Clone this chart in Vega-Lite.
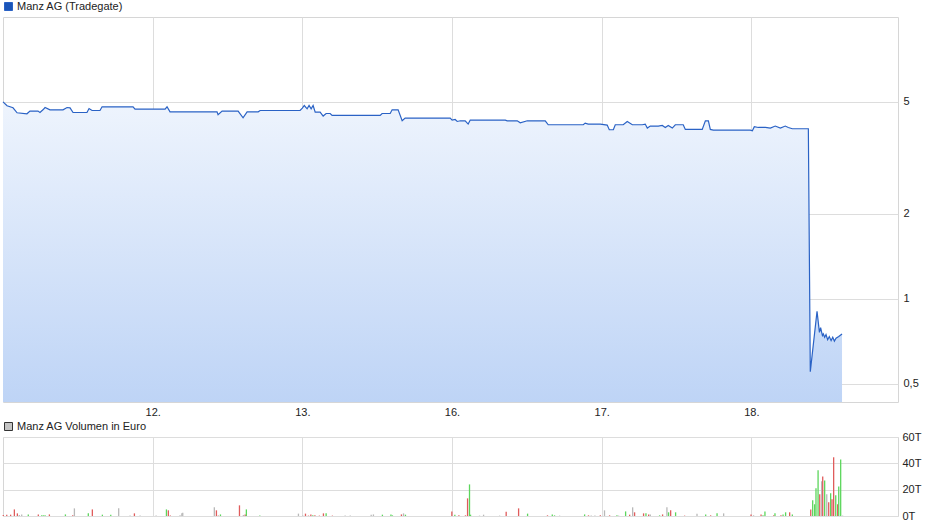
{
  "$schema": "https://vega.github.io/schema/vega-lite/v6.json",
  "padding": {"left": 0, "top": 0, "right": 0, "bottom": 0},
  "config": {
    "font": "Liberation Sans",
    "view": {"stroke": "#d6d6d6", "strokeWidth": 1},
    "axis": {"labelFont": "Liberation Sans", "labelFontSize": 11, "labelColor": "#222222", "gridColor": "#dddddd", "gridWidth": 1, "ticks": false, "domain": false, "title": null},
    "legend": {"orient": "top", "offset": 4, "padding": 0, "labelFont": "Liberation Sans", "labelFontSize": 11, "labelColor": "#222222", "symbolType": "square", "symbolSize": 64, "labelOffset": 3, "title": null},
    "concat": {"spacing": 2}
  },
  "spacing": 2,
  "resolve": {
    "scale": {"color": "independent", "opacity": "independent", "x": "independent", "y": "independent"},
    "legend": {"color": "independent", "opacity": "independent"}
  },
  "vconcat": [
    {
      "width": 895,
      "height": 385,
      "data": {"values": [
        {"t":0.000,"p":5.000},{"t":0.027,"p":4.840},{"t":0.067,"p":4.761},{"t":0.094,"p":4.571},{"t":0.160,"p":4.534},{"t":0.180,"p":4.634},{"t":0.234,"p":4.634},{"t":0.247,"p":4.582},{"t":0.267,"p":4.684},{"t":0.281,"p":4.773},{"t":0.314,"p":4.684},{"t":0.401,"p":4.684},{"t":0.428,"p":4.773},{"t":0.448,"p":4.761},{"t":0.468,"p":4.582},{"t":0.561,"p":4.582},{"t":0.575,"p":4.734},{"t":0.595,"p":4.657},{"t":0.648,"p":4.657},{"t":0.662,"p":4.800},{"t":0.869,"p":4.800},{"t":0.882,"p":4.711},{"t":1.083,"p":4.711},{"t":1.096,"p":4.800},{"t":1.116,"p":4.608},{"t":1.430,"p":4.608},{"t":1.437,"p":4.497},{"t":1.464,"p":4.634},{"t":1.571,"p":4.634},{"t":1.604,"p":4.389},{"t":1.631,"p":4.608},{"t":1.705,"p":4.608},{"t":1.718,"p":4.657},{"t":1.985,"p":4.657},
        {"t":2.000,"p":4.749},{"t":2.013,"p":4.851},{"t":2.032,"p":4.722},{"t":2.045,"p":4.851},{"t":2.059,"p":4.722},{"t":2.072,"p":4.851},{"t":2.086,"p":4.597},{"t":2.119,"p":4.597},{"t":2.139,"p":4.450},{"t":2.159,"p":4.545},{"t":2.186,"p":4.545},{"t":2.199,"p":4.472},{"t":2.520,"p":4.472},{"t":2.533,"p":4.545},{"t":2.587,"p":4.545},{"t":2.600,"p":4.684},{"t":2.640,"p":4.684},{"t":2.667,"p":4.282},{"t":2.687,"p":4.378},{"t":2.988,"p":4.378},
        {"t":3.001,"p":4.307},{"t":3.021,"p":4.328},{"t":3.035,"p":4.258},{"t":3.055,"p":4.282},{"t":3.088,"p":4.282},{"t":3.108,"p":4.168},{"t":3.122,"p":4.307},{"t":3.356,"p":4.307},{"t":3.369,"p":4.282},{"t":3.436,"p":4.282},{"t":3.456,"p":4.213},{"t":3.503,"p":4.282},{"t":3.623,"p":4.282},{"t":3.643,"p":4.145},{"t":3.877,"p":4.145},{"t":3.890,"p":4.202},{"t":3.910,"p":4.168},{"t":3.991,"p":4.168},
        {"t":4.037,"p":4.134},{"t":4.051,"p":3.979},{"t":4.078,"p":3.979},{"t":4.091,"p":4.145},{"t":4.144,"p":4.145},{"t":4.171,"p":4.258},{"t":4.205,"p":4.145},{"t":4.271,"p":4.145},{"t":4.291,"p":4.168},{"t":4.305,"p":4.035},{"t":4.325,"p":4.101},{"t":4.378,"p":4.101},{"t":4.405,"p":4.121},{"t":4.425,"p":4.054},{"t":4.445,"p":4.121},{"t":4.472,"p":4.035},{"t":4.492,"p":4.145},{"t":4.545,"p":4.145},{"t":4.559,"p":3.989},{"t":4.672,"p":3.989},{"t":4.693,"p":4.282},{"t":4.713,"p":4.282},{"t":4.726,"p":3.989},{"t":4.746,"p":3.969},{"t":4.993,"p":3.969},
        {"t":5.007,"p":3.946},{"t":5.020,"p":4.078},{"t":5.047,"p":4.054},{"t":5.094,"p":4.054},{"t":5.127,"p":4.035},{"t":5.160,"p":4.101},{"t":5.194,"p":4.035},{"t":5.227,"p":4.101},{"t":5.247,"p":4.054},{"t":5.274,"p":4.012},{"t":5.381,"p":4.012},{"t":5.394,"p":0.551},{"t":5.439,"p":0.903},{"t":5.455,"p":0.760},{"t":5.463,"p":0.790},{"t":5.475,"p":0.740},{"t":5.481,"p":0.750},{"t":5.490,"p":0.730},{"t":5.499,"p":0.746},{"t":5.510,"p":0.715},{"t":5.521,"p":0.734},{"t":5.533,"p":0.710},{"t":5.544,"p":0.730},{"t":5.555,"p":0.707},{"t":5.566,"p":0.724},{"t":5.584,"p":0.734},{"t":5.606,"p":0.750}
      ]},
      "encoding": {
        "x": {"field": "t", "type": "quantitative", "scale": {"domain": [0, 5.98], "nice": false, "zero": false},
              "axis": {"values": [1, 2, 3, 4, 5], "labelExpr": "['11.','12.','13.','16.','17.','18.'][datum.value]", "labelPadding": 4, "grid": true}}
      },
      "layer": [
        {
          "mark": {"type": "area", "color": {"gradient": "linear", "x1": 0, "y1": 0, "x2": 0, "y2": 1,
                    "stops": [{"offset": 0, "color": "#eef4fd"}, {"offset": 1, "color": "#bed4f6"}]}},
          "encoding": {
            "y": {"field": "p", "type": "quantitative", "scale": {"type": "log", "domain": [0.43, 10], "nice": false},
                  "axis": {"orient": "right", "values": [0.5, 1, 2, 5], "labelExpr": "replace(toString(datum.value), '.', ',')", "labelPadding": 5, "grid": true}},
            "y2": {"datum": 0.43}
          }
        },
        {
          "mark": {"type": "line", "strokeWidth": 1.2},
          "encoding": {
            "y": {"field": "p", "type": "quantitative"},
            "color": {"datum": "Manz AG (Tradegate)", "scale": {"range": ["#2a62c5"]},
                      "legend": {"symbolType": "square", "encode": {"symbols": {"update": {"fill": {"value": "#1b55b8"}, "stroke": {"value": "#0a2a66"}, "strokeWidth": {"value": 1}, "opacity": {"value": 1}}}}}}
          }
        }
      ]
    },
    {
      "width": 895,
      "height": 79,
      "data": {"values": [
        {"t":0.002,"v":800,"d":"down"},{"t":0.025,"v":1000,"d":"down"},{"t":0.051,"v":1000,"d":"down"},{"t":0.076,"v":5000,"d":"down"},{"t":0.096,"v":2000,"d":"down"},{"t":0.109,"v":700,"d":"flat"},{"t":0.125,"v":1200,"d":"flat"},{"t":0.169,"v":1200,"d":"up"},{"t":0.236,"v":1200,"d":"down"},{"t":0.259,"v":500,"d":"up"},{"t":0.270,"v":500,"d":"up"},{"t":0.281,"v":500,"d":"up"},{"t":0.310,"v":1200,"d":"down"},{"t":0.417,"v":1200,"d":"up"},{"t":0.466,"v":500,"d":"down"},{"t":0.477,"v":5800,"d":"flat"},{"t":0.570,"v":2000,"d":"up"},{"t":0.597,"v":5000,"d":"down"},{"t":0.664,"v":1000,"d":"up"},{"t":0.720,"v":1000,"d":"up"},{"t":0.773,"v":5800,"d":"flat"},{"t":0.849,"v":300,"d":"flat"},{"t":0.878,"v":2000,"d":"down"},{"t":0.916,"v":300,"d":"flat"},
        {"t":1.023,"v":300,"d":"flat"},{"t":1.092,"v":5000,"d":"up"},{"t":1.105,"v":4300,"d":"down"},{"t":1.118,"v":300,"d":"down"},{"t":1.183,"v":500,"d":"flat"},{"t":1.195,"v":2000,"d":"flat"},{"t":1.201,"v":2500,"d":"flat"},{"t":1.412,"v":6600,"d":"flat"},{"t":1.426,"v":4300,"d":"down"},{"t":1.439,"v":300,"d":"down"},{"t":1.453,"v":1200,"d":"up"},{"t":1.580,"v":8100,"d":"down"},{"t":1.606,"v":800,"d":"flat"},{"t":1.618,"v":1200,"d":"down"},{"t":1.626,"v":5000,"d":"up"},{"t":1.716,"v":300,"d":"up"},{"t":1.974,"v":1800,"d":"flat"},
        {"t":2.003,"v":300,"d":"flat"},{"t":2.021,"v":1800,"d":"down"},{"t":2.041,"v":300,"d":"down"},{"t":2.057,"v":1200,"d":"down"},{"t":2.070,"v":500,"d":"up"},{"t":2.084,"v":500,"d":"down"},{"t":2.114,"v":300,"d":"down"},{"t":2.141,"v":2000,"d":"down"},{"t":2.159,"v":2000,"d":"up"},{"t":2.201,"v":300,"d":"down"},{"t":2.286,"v":300,"d":"flat"},{"t":2.320,"v":300,"d":"flat"},{"t":2.460,"v":1000,"d":"flat"},{"t":2.475,"v":1200,"d":"flat"},{"t":2.535,"v":1000,"d":"up"},{"t":2.592,"v":1200,"d":"up"},{"t":2.602,"v":500,"d":"up"},{"t":2.662,"v":1200,"d":"down"},{"t":2.676,"v":2000,"d":"flat"},{"t":2.689,"v":1000,"d":"up"},{"t":2.999,"v":3500,"d":"down"},
        {"t":3.019,"v":1000,"d":"up"},{"t":3.046,"v":500,"d":"down"},{"t":3.090,"v":500,"d":"down"},{"t":3.104,"v":13400,"d":"down"},{"t":3.117,"v":24000,"d":"up"},{"t":3.124,"v":1000,"d":"up"},{"t":3.184,"v":300,"d":"flat"},{"t":3.211,"v":1000,"d":"flat"},{"t":3.318,"v":300,"d":"flat"},{"t":3.362,"v":3300,"d":"down"},{"t":3.445,"v":5800,"d":"down"},{"t":3.505,"v":1800,"d":"up"},{"t":3.638,"v":500,"d":"down"},{"t":3.670,"v":1200,"d":"up"},{"t":3.685,"v":500,"d":"up"},{"t":3.719,"v":300,"d":"flat"},{"t":3.886,"v":1200,"d":"up"},{"t":3.912,"v":500,"d":"down"},{"t":3.930,"v":300,"d":"flat"},{"t":3.955,"v":300,"d":"flat"},{"t":3.991,"v":500,"d":"down"},
        {"t":4.019,"v":4300,"d":"flat"},{"t":4.053,"v":500,"d":"down"},{"t":4.102,"v":500,"d":"up"},{"t":4.113,"v":300,"d":"flat"},{"t":4.160,"v":3500,"d":"up"},{"t":4.187,"v":1000,"d":"down"},{"t":4.207,"v":6600,"d":"flat"},{"t":4.220,"v":2800,"d":"down"},{"t":4.280,"v":2000,"d":"down"},{"t":4.296,"v":2000,"d":"up"},{"t":4.314,"v":1200,"d":"down"},{"t":4.325,"v":1200,"d":"flat"},{"t":4.387,"v":500,"d":"up"},{"t":4.407,"v":1200,"d":"down"},{"t":4.436,"v":6600,"d":"flat"},{"t":4.447,"v":2800,"d":"up"},{"t":4.461,"v":4300,"d":"down"},{"t":4.494,"v":2800,"d":"up"},{"t":4.554,"v":300,"d":"down"},{"t":4.637,"v":1800,"d":"flat"},{"t":4.695,"v":1200,"d":"up"},{"t":4.728,"v":500,"d":"down"},{"t":4.771,"v":2000,"d":"up"},{"t":4.815,"v":2000,"d":"flat"},{"t":4.998,"v":1200,"d":"down"},
        {"t":5.015,"v":500,"d":"flat"},{"t":5.065,"v":1200,"d":"down"},{"t":5.078,"v":500,"d":"up"},{"t":5.091,"v":3500,"d":"up"},{"t":5.149,"v":500,"d":"down"},{"t":5.158,"v":2000,"d":"up"},{"t":5.198,"v":500,"d":"down"},{"t":5.212,"v":1200,"d":"up"},{"t":5.229,"v":2800,"d":"up"},{"t":5.256,"v":2800,"d":"down"},{"t":5.274,"v":1200,"d":"up"},{"t":5.397,"v":5000,"d":"down"},{"t":5.410,"v":11900,"d":"up"},{"t":5.423,"v":8900,"d":"up"},{"t":5.432,"v":21000,"d":"up"},{"t":5.446,"v":34700,"d":"up"},{"t":5.457,"v":16500,"d":"down"},{"t":5.470,"v":26300,"d":"flat"},{"t":5.477,"v":30000,"d":"down"},{"t":5.490,"v":27000,"d":"up"},{"t":5.504,"v":16500,"d":"flat"},{"t":5.517,"v":10400,"d":"down"},{"t":5.530,"v":17200,"d":"up"},{"t":5.539,"v":12700,"d":"down"},{"t":5.550,"v":44600,"d":"down"},{"t":5.564,"v":15700,"d":"up"},{"t":5.577,"v":8900,"d":"down"},{"t":5.584,"v":22500,"d":"up"},{"t":5.597,"v":43000,"d":"up"},{"t":5.610,"v":300,"d":"flat"}
      ]},
      "mark": {"type": "rule", "strokeWidth": 1.3},
      "encoding": {
        "x": {"field": "t", "type": "quantitative", "scale": {"domain": [0, 5.98], "nice": false, "zero": false},
              "axis": {"values": [1, 2, 3, 4, 5], "labels": false, "grid": true}},
        "y": {"field": "v", "type": "quantitative", "scale": {"domain": [0, 60000], "nice": false},
              "axis": {"orient": "right", "values": [0, 20000, 40000, 60000], "labelExpr": "(datum.value/1000) + 'T'", "labelPadding": 4, "grid": true}},
        "y2": {"datum": 0},
        "color": {"field": "d", "type": "nominal", "scale": {"domain": ["up", "down", "flat"], "range": ["#5cd65c", "#e05c5c", "#b8b8b8"]}, "legend": null},
        "opacity": {"datum": "Manz AG Volumen in Euro", "scale": {"range": [1]},
                    "legend": {"symbolType": "square", "encode": {"symbols": {"update": {"fill": {"value": "#c4c4c4"}, "stroke": {"value": "#333333"}, "strokeWidth": {"value": 1}, "opacity": {"value": 1}}}}}}
      }
    }
  ]
}
